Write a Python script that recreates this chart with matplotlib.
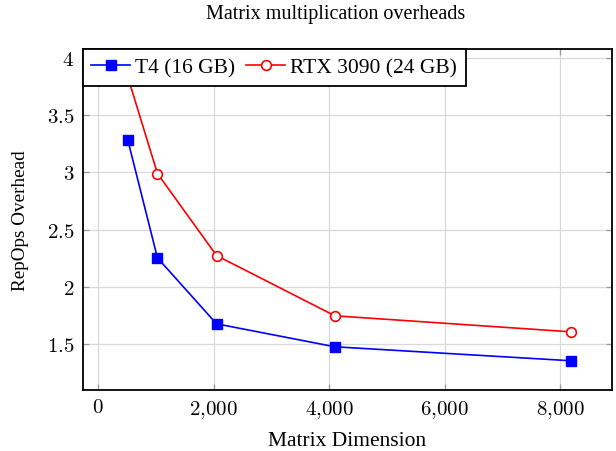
import matplotlib
matplotlib.use("Agg")
import matplotlib.pyplot as plt
from matplotlib.ticker import FuncFormatter

# values
dims = [512, 1024, 2048, 4096, 8192]
t4 = [3.28, 2.255, 1.68, 1.48, 1.358]
rtx3090 = [3.83, 2.99, 2.275, 1.75, 1.61]
labels = ["T4 (16 GB)", "RTX 3090 (24 GB)"]

plt.rcParams['font.family'] = ['Liberation Serif', 'DejaVu Serif']
plt.rcParams['mathtext.fontset'] = 'cm'

fig = plt.figure(figsize=(6.16, 4.52), dpi=100)
ax = fig.add_axes([82.7/616, 1-390.7/452, (612-82.7)/616, (390.7-50)/452])

ax.plot(dims, t4, color="blue", lw=1.2, marker="s", markersize=7.5,
        markeredgecolor="blue", markerfacecolor="blue", label=labels[0], zorder=3)
ax.plot(dims, rtx3090, color="red", lw=1.2, marker="o", markersize=7,
        markeredgecolor="red", markerfacecolor="white", markeredgewidth=1.2,
        label=labels[1], zorder=3)

ax.set_xlim(-270, 8895)
ax.set_ylim(1.106, 4.075)
ax.set_xticks([0, 2000, 4000, 6000, 8000])
ax.set_yticks([1.5, 2, 2.5, 3, 3.5, 4])

ax.xaxis.set_major_formatter(FuncFormatter(
    lambda v, p: "$0$" if v == 0 else "$%d{,}%03d$" % (v // 1000, v % 1000)))
ax.yaxis.set_major_formatter(FuncFormatter(lambda v, p: "$%g$" % v))

ax.grid(True, color="#d9d9d9", lw=0.9)
ax.set_axisbelow(True)
ax.tick_params(direction="in", length=4, width=0.9, color="#999999",
               top=True, right=True, labelsize=15, pad=6)
for s in ax.spines.values():
    s.set_linewidth(1.3)

ax.set_title("Matrix multiplication overheads", fontsize=14.5, pad=22, x=0.478)
ax.set_xlabel("Matrix Dimension", fontsize=15.5, labelpad=8)
ax.set_ylabel("RepOps Overhead", fontsize=13.8, labelpad=13)

leg = ax.legend(loc="upper left", ncol=2, fontsize=15.5, borderaxespad=0,
                fancybox=False, framealpha=1, edgecolor="black",
                handlelength=1.8, columnspacing=0.5, handletextpad=0.25,
                borderpad=0.4)
leg.get_frame().set_linewidth(1.3)

fig.savefig("out.png", dpi=100)
